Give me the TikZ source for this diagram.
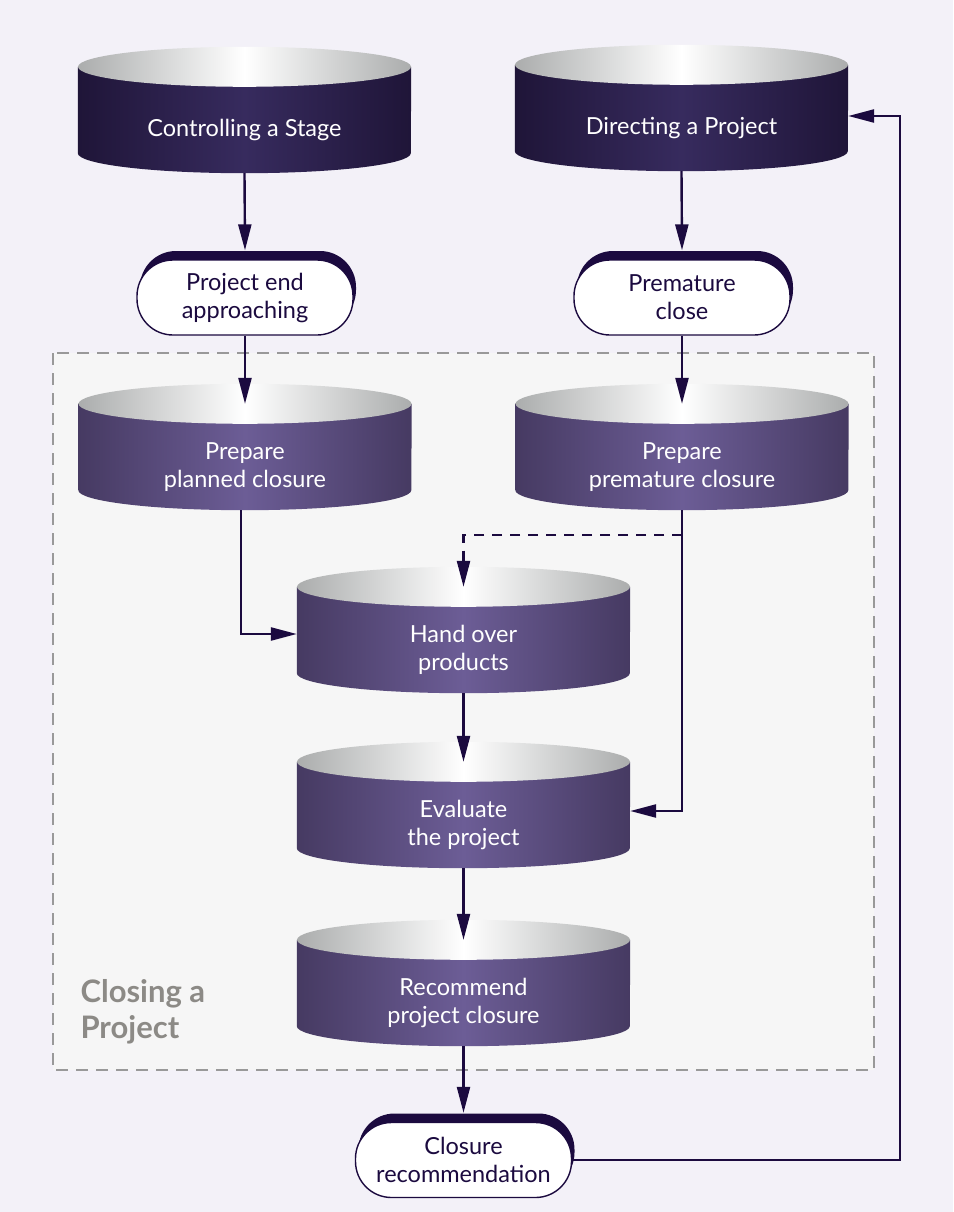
\documentclass[tikz,border=0pt]{standalone}
\usepackage{fontspec}
\setmainfont{Lato}
\usetikzlibrary{arrows.meta,shadows}
\definecolor{navy}{HTML}{1B0A3F}
\definecolor{bgcol}{HTML}{F3F1F8}
\definecolor{boxfill}{HTML}{F6F6F6}
\definecolor{boxline}{HTML}{999999}
\definecolor{darkedge}{HTML}{1F1538}
\definecolor{darkmid}{HTML}{372B5E}
\definecolor{purpedge}{HTML}{463A62}
\definecolor{purpmid}{HTML}{6C5D96}
\definecolor{lidgray}{HTML}{ABADAD}
\definecolor{labelgray}{HTML}{8C8A86}
\def\lidrx{166.5}
\def\lidry{20}
% cylinder process: name, position, edge colour, middle colour, text
\newcommand{\cylproc}[5]{%
  \node[face] (#1) at (#2) {};
  \shade[left color=#3,right color=#3,middle color=#4]
    ([yshift=\lidry pt]#1.north west) -- ([yshift=\lidry pt]#1.south west)
    arc[start angle=180,end angle=360,x radius=\lidrx,y radius=\lidry]
    -- ([yshift=\lidry pt]#1.north east) -- cycle;
  \coordinate (#1-top) at ([yshift=\lidry pt]#1.north);
  \shade[left color=lidgray,right color=lidgray,middle color=white]
    (#1-top) ellipse[x radius=\lidrx,y radius=\lidry];
  \node[facetext] at (#1) {#5};
}
\begin{document}
\begin{tikzpicture}[x=1pt,y=1pt,
  flow/.style={draw=navy,line width=2.4pt,-{Triangle[length=26pt,width=13pt]}},
  face/.style={minimum width=333pt,minimum height=86pt,inner sep=0pt},
  facetext/.style={align=center,text=white,font=\fontsize{23.5}{28}\selectfont},
  capsule/.style={draw=navy,line width=1.4pt,fill=white,rounded corners=36pt,
    minimum width=216pt,minimum height=75pt,align=center,text=navy,
    font=\fontsize{23.5}{28}\selectfont,
    drop shadow={shadow xshift=3pt,shadow yshift=9pt,fill=navy,opacity=1}}]
\fill[bgcol] (0,0) rectangle (953,-1212);
\useasboundingbox (0,0) rectangle (953,-1212);
\draw[boxline,fill=boxfill,line width=1.8pt,dash pattern=on 12pt off 8pt] (53,-353) rectangle (874,-1070);
\node[anchor=north west,align=left,text=labelgray,font=\bfseries\fontsize{31}{36}\selectfont] (lbl) at (77,-976) {Closing a\\Project};

\cylproc{cs}{244.5,-130}{darkedge}{darkmid}{Controlling a Stage}
\cylproc{dp}{681.5,-128}{darkedge}{darkmid}{Directing a Project}
\cylproc{pp}{245,-467}{purpedge}{purpmid}{Prepare\\planned closure}
\cylproc{pm}{682,-467}{purpedge}{purpmid}{Prepare\\premature closure}
\cylproc{ho}{463.5,-650}{purpedge}{purpmid}{Hand over\\products}
\cylproc{ev}{463.5,-825}{purpedge}{purpmid}{Evaluate\\the project}
\cylproc{rc}{463.5,-1003}{purpedge}{purpmid}{Recommend\\project closure}

\node[capsule] (pe) at (245,-297.5) {Project end\\approaching};
\node[capsule] (pc) at (682,-297.5) {Premature\\close};
\node[capsule] (cr) at (463.5,-1160) {Closure\\recommendation};

\draw[flow] (cs.south) -- ([yshift=9pt]pe.north);
\draw[flow] (dp.south) -- ([yshift=9pt]pc.north);
\draw[flow] (pe.south) -- (pp-top);
\draw[flow] (pc.south) -- (pm-top);
\draw[flow] ([xshift=-4pt]pp.south) |- ([yshift=16pt]ho.west);
\draw[flow] (pm.south) |- ([yshift=14pt]ev.east);
\draw[flow,dash pattern=on 10pt off 8pt] ([yshift=-25pt]pm.south) -| (ho-top);
\draw[flow] (ho.south) -- (ev-top);
\draw[flow] (ev.south) -- (rc-top);
\draw[flow] (rc.south) -- ([yshift=9pt]cr.north);
\coordinate (fb) at (900,-116);
\draw[flow] (cr.east) -| (fb) -- (fb -| dp.east);
\end{tikzpicture}
\end{document}
